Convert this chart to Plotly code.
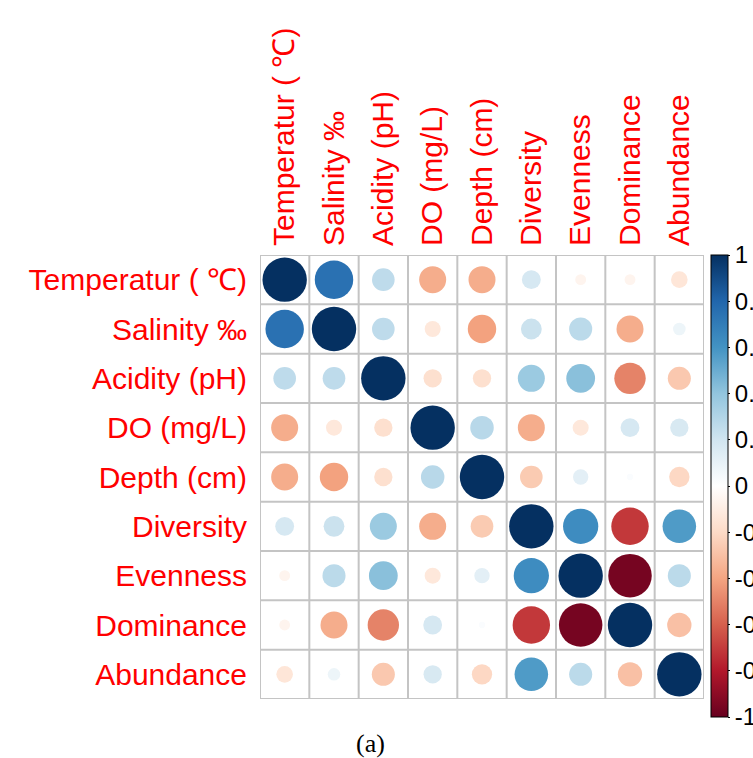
import plotly.graph_objects as go

labels = ["Temperatur ( ℃)", "Salinity ‰", "Acidity (pH)", "DO (mg/L)", "Depth (cm)",
          "Diversity", "Evenness", "Dominance", "Abundance"]

r_temperature = [1.00, 0.75, 0.26, -0.37, -0.37, 0.18, -0.06, -0.06, -0.14]
r_salinity    = [0.75, 1.00, 0.26, -0.13, -0.41, 0.22, 0.27, -0.37, 0.08]
r_acidity     = [0.26, 0.26, 1.00, -0.17, -0.17, 0.37, 0.42, -0.50, -0.27]
r_do          = [-0.37, -0.13, -0.17, 1.00, 0.28, -0.37, -0.13, 0.18, 0.17]
r_depth       = [-0.37, -0.41, -0.17, 0.28, 1.00, -0.26, 0.12, 0.02, -0.21]
r_diversity   = [0.18, 0.22, 0.37, -0.37, -0.26, 1.00, 0.63, -0.71, 0.57]
r_evenness    = [-0.06, 0.27, 0.42, -0.13, 0.12, 0.63, 1.00, -0.96, 0.27]
r_dominance   = [-0.06, -0.37, -0.50, 0.18, 0.02, -0.71, -0.96, 1.00, -0.30]
r_abundance   = [-0.14, 0.08, -0.27, 0.17, -0.21, 0.57, 0.27, -0.30, 1.00]

colorbar_ticks = [1, 0.8, 0.6, 0.4, 0.2, 0, -0.2, -0.4, -0.6, -0.8, -1]
colorbar_ticktext = ["1", "0.8", "0.6", "0.4", "0.2", "0", "-0.2", "-0.4", "-0.6", "-0.8", "-1"]

rows = [r_temperature, r_salinity, r_acidity, r_do, r_depth,
        r_diversity, r_evenness, r_dominance, r_abundance]
n = len(labels)

# layout geometry
W, H = 753, 758
ML, MR, MT, MB = 260, 49, 255, 59
plot_w = W - ML - MR
plot_h = H - MT - MB
cell = plot_w / n

rdbu = ["#67001F", "#B2182B", "#D6604D", "#F4A582", "#FDDBC7", "#FFFFFF",
        "#D1E5F0", "#92C5DE", "#4393C3", "#2166AC", "#053061"]
colorscale = [[i / (len(rdbu) - 1), c] for i, c in enumerate(rdbu)]

xs, ys, vals, sizes = [], [], [], []
for i, row in enumerate(rows):
    for j, v in enumerate(row):
        xs.append(j)
        ys.append(i)
        vals.append(v)
        sizes.append(0.9 * cell * abs(v) ** 0.5)

fig = go.Figure()
fig.add_trace(go.Scatter(
    x=xs, y=ys, mode="markers",
    marker=dict(
        size=sizes, color=vals, colorscale=colorscale, cmin=-1, cmax=1,
        line=dict(width=0), opacity=1,
        showscale=True,
        colorbar=dict(
            x=(711 - ML) / plot_w, xanchor="left", xpad=0,
            y=1, yanchor="top", ypad=0,
            len=462, lenmode="pixels",
            thickness=17, thicknessmode="pixels",
            outlinewidth=1, outlinecolor="black",
            tickvals=colorbar_ticks, ticktext=colorbar_ticktext,
            ticks="outside", ticklen=2, tickcolor="black",
            tickfont=dict(family="Liberation Sans, Arial", size=24, color="black"),
        ),
    ),
    hoverinfo="skip", showlegend=False,
))

shapes = []
for k in range(n + 1):
    shapes.append(dict(type="line", x0=k - 0.5, x1=k - 0.5, y0=-0.5, y1=n - 0.5,
                       line=dict(color="#C4C4C4", width=2), layer="below"))
    shapes.append(dict(type="line", x0=-0.5, x1=n - 0.5, y0=k - 0.5, y1=k - 0.5,
                       line=dict(color="#C4C4C4", width=2), layer="below"))

label_font = dict(family="Liberation Sans, Arial", size=30, color="#FF0000")

fig.update_layout(
    width=W, height=H,
    margin=dict(l=ML, r=MR, t=MT, b=MB, pad=0, autoexpand=False),
    paper_bgcolor="white", plot_bgcolor="white",
    shapes=shapes,
    xaxis=dict(range=[-0.5, n - 0.5], side="top", tickvals=list(range(n)), ticktext=labels,
               tickangle=-90, tickfont=label_font, showgrid=False, zeroline=False,
               showline=False, ticks="", ticklabelstandoff=8, fixedrange=True,
               automargin=False),
    yaxis=dict(range=[n - 0.5, -0.5], tickvals=list(range(n)), ticktext=labels,
               tickfont=label_font, showgrid=False, zeroline=False, showline=False,
               ticks="", ticklabelstandoff=12, fixedrange=True, automargin=False),
    annotations=[dict(text="(a)", xref="paper", yref="paper",
                      x=(370 - ML) / plot_w, y=-(743 - (H - MB)) / plot_h,
                      xanchor="center", yanchor="middle", showarrow=False,
                      font=dict(family="Liberation Serif, Times New Roman", size=26, color="black"))],
)

fig.write_html("out.html")
